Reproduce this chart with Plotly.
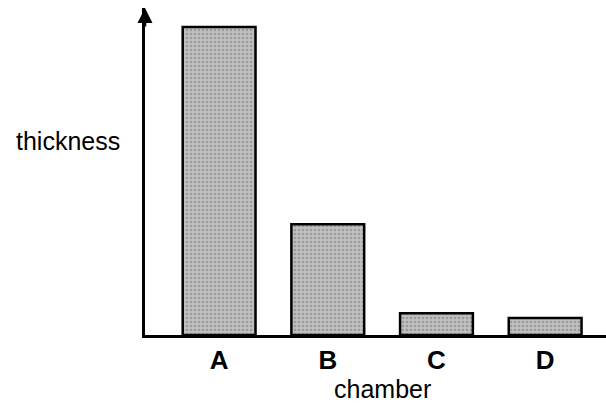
import plotly.graph_objects as go

chambers = ["A", "B", "C", "D"]
thickness = [100, 36, 7.1, 5.5]

# plot area in pixels: left 145, right 606, top 8, bottom 335
PW, PH = 461, 327

fig = go.Figure()
fig.add_trace(go.Bar(
    x=list(range(len(chambers))),
    y=thickness,
    width=0.67,
    marker=dict(
        color="#b0b0b0",
        line=dict(color="black", width=2.5),
        pattern=dict(shape=".", fgcolor="#737373", bgcolor="#c0c0c0", size=4, solidity=0.35),
    ),
))

fig.update_layout(
    width=606, height=405,
    margin=dict(l=145, r=0, t=8, b=70, autoexpand=False),
    plot_bgcolor="white", paper_bgcolor="white",
    showlegend=False,
    font=dict(family="Liberation Sans, Arial, sans-serif", color="black"),
    xaxis=dict(
        range=[-0.682, 3.56],
        tickmode="array",
        tickvals=list(range(len(chambers))),
        ticktext=["<b>%s</b>" % c for c in chambers],
        tickfont=dict(size=26, color="black"),
        ticks="", showgrid=False, zeroline=False,
        showline=True, linecolor="black", linewidth=2.5,
        ticklabelstandoff=0, automargin=False,
    ),
    yaxis=dict(
        range=[0, 106.2],
        showticklabels=False, ticks="", showgrid=False, zeroline=False,
        showline=True, linecolor="black", linewidth=2.5, automargin=False,
    ),
    annotations=[
        dict(x=0, y=1.0, xref="paper", yref="paper", ax=0, ay=20,
             showarrow=True, arrowhead=2, arrowsize=1.2, arrowwidth=2.5,
             arrowcolor="black", text=""),
        dict(xref="paper", x=(68 - 145) / PW, yref="paper", y=(335 - 141) / PH,
             xanchor="center", yanchor="middle",
             text="thickness", showarrow=False, font=dict(size=25, color="black")),
        dict(xref="paper", x=(382 - 145) / PW, yref="paper", y=(335 - 389) / PH,
             xanchor="center", yanchor="middle",
             text="chamber", showarrow=False, font=dict(size=25, color="black")),
    ],
)

fig.write_html("out.html", config={"displayModeBar": False},
               post_script="document.body.style.margin='0';document.body.style.overflow='hidden';")
